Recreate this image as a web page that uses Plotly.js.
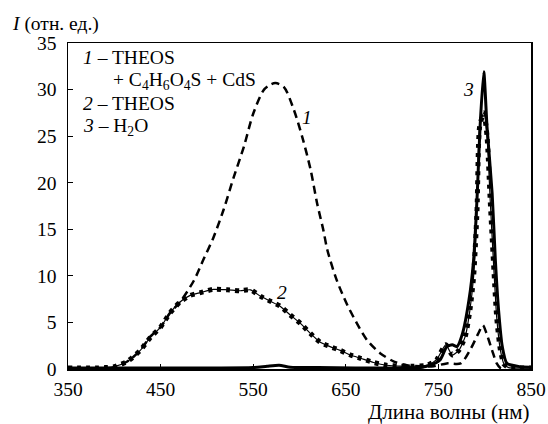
<!DOCTYPE html>
<html>
<head>
<meta charset="utf-8">
<script src="https://cdn.plot.ly/plotly-3.0.1.min.js"></script>
<style>html,body{margin:0;padding:0;background:#fff}#plot{width:548px;height:424px}</style>
</head>
<body>
<div id="plot"></div>
<script>
// Curve 1: THEOS + C4H6O4S + CdS (dashed)
const wl1 = [395, 400, 414, 428, 439, 450, 460, 471, 486, 496, 507, 518, 529, 540, 550, 561, 568, 574, 583, 594, 603, 612, 619, 626, 630, 640, 651, 662, 673, 687, 702, 716, 730, 745, 759, 774, 784, 793, 798, 802, 808, 813, 817, 822];
const int1 = [0, 0.2, 0.8, 2.0, 3.5, 4.5, 6.0, 7.2, 9.5, 11.7, 14.1, 17.1, 20.6, 23.9, 27.4, 29.9, 30.5, 30.7, 30.3, 27.8, 24.9, 21.4, 17.8, 14.8, 12.8, 9.6, 7.0, 4.9, 3.1, 1.7, 0.8, 0.4, 0.3, 0.3, 0.6, 0.6, 2.0, 3.8, 4.7, 3.8, 2.0, 0.6, 0.1, 0];
// Curve 2: THEOS (dotted)
const wl2 = [350, 360, 370, 380, 390, 400, 414, 428, 439, 450, 460, 471, 482, 493, 507, 522, 536, 547, 558, 568, 579, 590, 601, 612, 622, 633, 644, 655, 666, 680, 694, 709, 723, 738, 748, 758, 765, 772, 779, 784, 788, 791.7, 794.5, 799, 802.5, 806, 810, 813, 817, 821, 826, 835, 850];
const int2 = [0.1, 0.1, 0.1, 0.1, 0.15, 0.25, 0.8, 2.0, 3.4, 4.5, 6.0, 7.2, 7.9, 8.2, 8.55, 8.5, 8.4, 8.5, 7.8, 7.3, 6.75, 5.8, 4.9, 3.8, 2.9, 2.4, 2.0, 1.5, 1.15, 0.7, 0.4, 0.3, 0.3, 0.4, 1.0, 2.6, 1.5, 2.0, 3.5, 6.3, 9.9, 17, 26, 27.5, 25, 18, 10.5, 5.5, 2.0, 0.5, 0.15, 0.1, 0.1];
// Curve 3: H2O (solid)
const wl3 = [350, 400, 450, 500, 550, 565, 578, 590, 620, 700, 730, 741, 752, 759, 765, 770, 776, 783, 788, 792, 795, 799, 802.5, 808, 811.5, 815, 819, 824, 838, 850];
const int3 = [0.1, 0.1, 0.1, 0.1, 0.15, 0.3, 0.4, 0.2, 0.15, 0.1, 0.15, 0.4, 1.0, 2.4, 2.6, 2.4, 3.8, 7.4, 11.7, 18.9, 26, 31.9, 26, 18.9, 11.7, 6.3, 2.4, 0.6, 0.25, 0.2];

const xTicks = [350, 450, 550, 650, 750, 850];
const yTicks = [0, 5, 10, 15, 20, 25, 30, 35];

const font = "'Liberation Serif', 'Times New Roman', serif";

const traces = [
  {x: wl3, y: int3, mode: 'lines', line: {color: '#000', width: 3, shape: 'spline', smoothing: 0.6}, hoverinfo: 'skip'},
  {x: wl2, y: int2, mode: 'lines', line: {color: '#000', width: 1.2, shape: 'spline', smoothing: 0.6}, hoverinfo: 'skip'},
  {x: wl2, y: int2, mode: 'lines', line: {color: '#000', width: 5, dash: '4px,5px', shape: 'spline', smoothing: 0.6}, hoverinfo: 'skip'},
  {x: wl1, y: int1, mode: 'lines', line: {color: '#000', width: 2.5, dash: '8px,5px', shape: 'spline', smoothing: 0.8}, hoverinfo: 'skip'}
];

function px2paperX(px){ return (px - 67.7) / 463.3; }
function px2paperY(py){ return (369 - py) / 326; }

const ann = [];
function addText(text, px, py, anchor, size){
  ann.push({text: text, xref: 'paper', yref: 'paper', x: px2paperX(px), y: px2paperY(py),
    xanchor: anchor || 'left', yanchor: 'middle', showarrow: false, font: {family: font, size: size || 19.5, color: '#000'}});
}
addText('<i>I</i> (отн. ед.)', 10, 24, 'left', 19.5);
addText('Длина волны (нм)', 531, 412, 'right', 21);
addText('<i>1</i> – THEOS', 81, 58, 'left');
addText('+ C<sub>4</sub>H<sub>6</sub>O<sub>4</sub>S + CdS', 111, 81, 'left');
addText('<i>2</i> – THEOS', 81, 103, 'left');
addText('<i>3</i> – H<sub>2</sub>O', 81, 127, 'left');
addText('<i>1</i>', 307, 117, 'center');
addText('<i>2</i>', 282, 292, 'center');
addText('<i>3</i>', 468, 90, 'center');

const layout = {
  width: 548, height: 424,
  margin: {l: 67.7, r: 17, t: 43, b: 55, pad: 0},
  paper_bgcolor: '#fff', plot_bgcolor: '#fff',
  showlegend: false,
  font: {family: font, size: 19.5, color: '#000'},
  xaxis: {range: [350, 850], tickvals: xTicks, ticktext: xTicks.map(String), ticks: 'inside', ticklen: 5, tickwidth: 1, tickcolor: '#000',
    showline: true, linecolor: '#000', linewidth: 1.5, mirror: true, showgrid: false, zeroline: false, ticklabelstandoff: 2,
    tickfont: {family: font, size: 19.5, color: '#000'}},
  yaxis: {range: [0, 35], tickvals: yTicks, ticktext: yTicks.map(String), ticks: 'inside', ticklen: 5, tickwidth: 1, tickcolor: '#000',
    showline: true, linecolor: '#000', linewidth: 1.5, mirror: true, showgrid: false, zeroline: false, ticklabelstandoff: 6,
    tickfont: {family: font, size: 19.5, color: '#000'}},
  annotations: ann
};

Plotly.newPlot('plot', traces, layout, {staticPlot: true, displayModeBar: false});
</script>
</body>
</html>
